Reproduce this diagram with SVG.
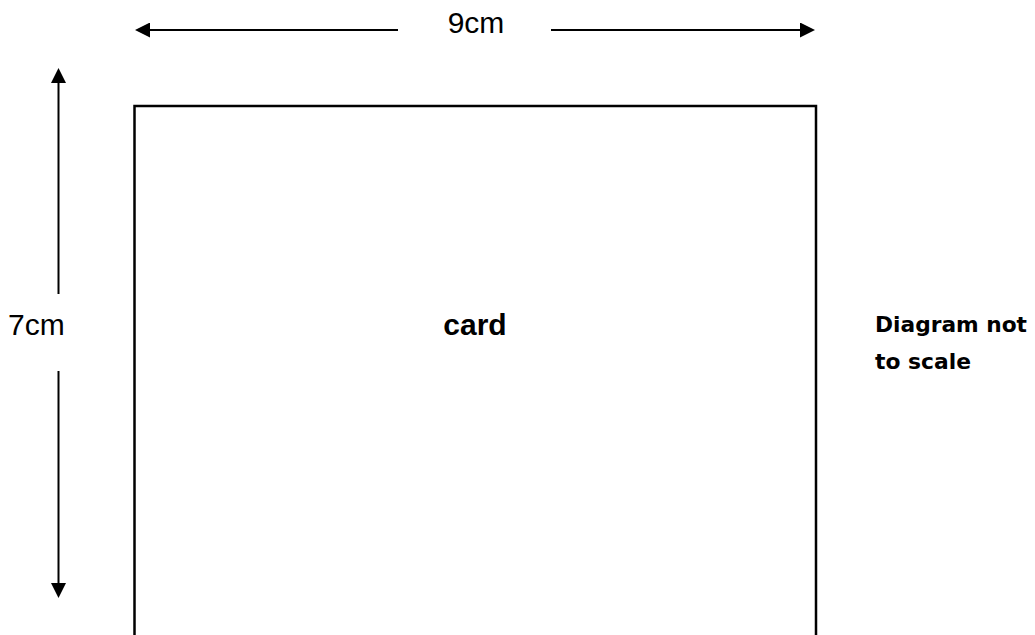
<svg xmlns="http://www.w3.org/2000/svg" width="1035" height="635" viewBox="0 0 1035 635">
<defs>
<style>
.dim{stroke:#000;stroke-width:2;fill:none}
.lbl{font-family:"Liberation Sans",Arial,sans-serif;font-size:30px;fill:#000}
.note{font-family:"DejaVu Sans","Liberation Sans",sans-serif;font-weight:bold;font-size:22px;fill:#000}
</style>
<marker id="ah" viewBox="0 0 15 15" refX="0" refY="7.5" markerWidth="15" markerHeight="15" markerUnits="userSpaceOnUse" orient="auto">
<polygon points="0,0 15,7.5 0,15" fill="#000"/>
</marker>
</defs>
<rect width="1035" height="635" fill="#fff"/>
<g id="card">
<path d="M134.5,640 V106 H816 V640" fill="none" stroke="#000" stroke-width="2.5"/>
<text class="lbl" x="475" y="335" text-anchor="middle" font-weight="bold">card</text>
</g>
<g id="connectors">
<line class="dim" x1="398" y1="30" x2="150" y2="30" marker-end="url(#ah)"/>
<line class="dim" x1="551" y1="30" x2="800" y2="30" marker-end="url(#ah)"/>
<line class="dim" x1="58.5" y1="294" x2="58.5" y2="83" marker-end="url(#ah)"/>
<line class="dim" x1="58.5" y1="371" x2="58.5" y2="583" marker-end="url(#ah)"/>
</g>
<g id="width-label">
<text class="lbl" x="476" y="33" text-anchor="middle">9cm</text>
</g>
<g id="height-label">
<text class="lbl" x="8" y="335">7cm</text>
</g>
<g id="note">
<text class="note" x="875" y="332" textLength="152" lengthAdjust="spacingAndGlyphs">Diagram not</text>
<text class="note" x="875" y="369" textLength="96" lengthAdjust="spacingAndGlyphs">to scale</text>
</g>
</svg>
